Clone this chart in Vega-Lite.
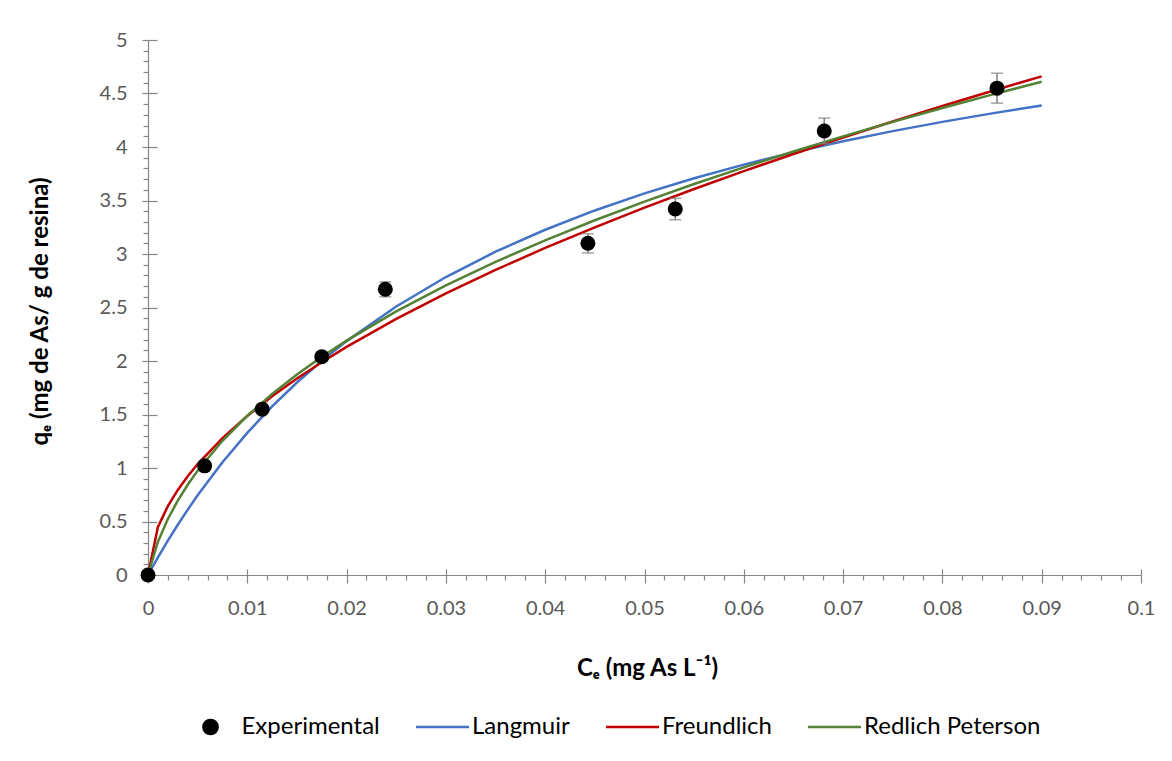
{
  "$schema": "https://vega.github.io/schema/vega-lite/v6.json",
  "autosize": "none",
  "width": 993,
  "height": 535,
  "padding": {"left": 148, "top": 40, "right": 31, "bottom": 186},
  "background": "#ffffff",
  "config": {
    "view": {"stroke": null},
    "font": "Lato",
    "axis": {
      "grid": false,
      "domainColor": "#868686",
      "domainWidth": 1.2,
      "tickColor": "#868686",
      "tickWidth": 1.2,
      "labelFont": "Lato",
      "labelFontSize": 20,
      "labelColor": "#595959",
      "labelFlush": false,
      "titleFont": "Lato",
      "titleFontSize": 24,
      "titleFontWeight": "bold",
      "titleColor": "#000000"
    }
  },
  "datasets": {
    "isotherms": [
      {"model": "Langmuir", "C": 0, "q": 0},
      {"model": "Langmuir", "C": 0.001, "q": 0.1649},
      {"model": "Langmuir", "C": 0.002, "q": 0.3211},
      {"model": "Langmuir", "C": 0.003, "q": 0.4695},
      {"model": "Langmuir", "C": 0.004, "q": 0.6105},
      {"model": "Langmuir", "C": 0.005, "q": 0.7446},
      {"model": "Langmuir", "C": 0.0075, "q": 1.0533},
      {"model": "Langmuir", "C": 0.01, "q": 1.3286},
      {"model": "Langmuir", "C": 0.0125, "q": 1.5758},
      {"model": "Langmuir", "C": 0.015, "q": 1.7989},
      {"model": "Langmuir", "C": 0.0175, "q": 2.0014},
      {"model": "Langmuir", "C": 0.02, "q": 2.1858},
      {"model": "Langmuir", "C": 0.025, "q": 2.5096},
      {"model": "Langmuir", "C": 0.03, "q": 2.7847},
      {"model": "Langmuir", "C": 0.035, "q": 3.0212},
      {"model": "Langmuir", "C": 0.04, "q": 3.2267},
      {"model": "Langmuir", "C": 0.045, "q": 3.407},
      {"model": "Langmuir", "C": 0.05, "q": 3.5663},
      {"model": "Langmuir", "C": 0.055, "q": 3.7083},
      {"model": "Langmuir", "C": 0.06, "q": 3.8355},
      {"model": "Langmuir", "C": 0.065, "q": 3.9501},
      {"model": "Langmuir", "C": 0.07, "q": 4.054},
      {"model": "Langmuir", "C": 0.075, "q": 4.1486},
      {"model": "Langmuir", "C": 0.08, "q": 4.235},
      {"model": "Langmuir", "C": 0.085, "q": 4.3143},
      {"model": "Langmuir", "C": 0.09, "q": 4.3873},
      {"model": "Freundlich", "C": 0, "q": 0},
      {"model": "Freundlich", "C": 0.001, "q": 0.4489},
      {"model": "Freundlich", "C": 0.002, "q": 0.6437},
      {"model": "Freundlich", "C": 0.003, "q": 0.795},
      {"model": "Freundlich", "C": 0.004, "q": 0.9231},
      {"model": "Freundlich", "C": 0.005, "q": 1.0367},
      {"model": "Freundlich", "C": 0.0075, "q": 1.28},
      {"model": "Freundlich", "C": 0.01, "q": 1.4866},
      {"model": "Freundlich", "C": 0.0125, "q": 1.6696},
      {"model": "Freundlich", "C": 0.015, "q": 1.8357},
      {"model": "Freundlich", "C": 0.0175, "q": 1.9888},
      {"model": "Freundlich", "C": 0.02, "q": 2.1317},
      {"model": "Freundlich", "C": 0.025, "q": 2.3938},
      {"model": "Freundlich", "C": 0.03, "q": 2.6318},
      {"model": "Freundlich", "C": 0.035, "q": 2.8515},
      {"model": "Freundlich", "C": 0.04, "q": 3.0566},
      {"model": "Freundlich", "C": 0.045, "q": 3.2496},
      {"model": "Freundlich", "C": 0.05, "q": 3.4328},
      {"model": "Freundlich", "C": 0.055, "q": 3.6074},
      {"model": "Freundlich", "C": 0.06, "q": 3.7743},
      {"model": "Freundlich", "C": 0.065, "q": 3.9345},
      {"model": "Freundlich", "C": 0.07, "q": 4.0893},
      {"model": "Freundlich", "C": 0.075, "q": 4.2383},
      {"model": "Freundlich", "C": 0.08, "q": 4.3832},
      {"model": "Freundlich", "C": 0.085, "q": 4.5236},
      {"model": "Freundlich", "C": 0.09, "q": 4.6605},
      {"model": "Redlich Peterson", "C": 0, "q": 0},
      {"model": "Redlich Peterson", "C": 0.001, "q": 0.3108},
      {"model": "Redlich Peterson", "C": 0.002, "q": 0.5232},
      {"model": "Redlich Peterson", "C": 0.003, "q": 0.6955},
      {"model": "Redlich Peterson", "C": 0.004, "q": 0.8437},
      {"model": "Redlich Peterson", "C": 0.005, "q": 0.9752},
      {"model": "Redlich Peterson", "C": 0.0075, "q": 1.2547},
      {"model": "Redlich Peterson", "C": 0.01, "q": 1.4882},
      {"model": "Redlich Peterson", "C": 0.0125, "q": 1.6916},
      {"model": "Redlich Peterson", "C": 0.015, "q": 1.8733},
      {"model": "Redlich Peterson", "C": 0.0175, "q": 2.0384},
      {"model": "Redlich Peterson", "C": 0.02, "q": 2.1902},
      {"model": "Redlich Peterson", "C": 0.025, "q": 2.4636},
      {"model": "Redlich Peterson", "C": 0.03, "q": 2.707},
      {"model": "Redlich Peterson", "C": 0.035, "q": 2.9265},
      {"model": "Redlich Peterson", "C": 0.04, "q": 3.1282},
      {"model": "Redlich Peterson", "C": 0.045, "q": 3.3151},
      {"model": "Redlich Peterson", "C": 0.05, "q": 3.4895},
      {"model": "Redlich Peterson", "C": 0.055, "q": 3.6543},
      {"model": "Redlich Peterson", "C": 0.06, "q": 3.81},
      {"model": "Redlich Peterson", "C": 0.065, "q": 3.9583},
      {"model": "Redlich Peterson", "C": 0.07, "q": 4.0997},
      {"model": "Redlich Peterson", "C": 0.075, "q": 4.2348},
      {"model": "Redlich Peterson", "C": 0.08, "q": 4.3644},
      {"model": "Redlich Peterson", "C": 0.085, "q": 4.4898},
      {"model": "Redlich Peterson", "C": 0.09, "q": 4.6098}
    ],
    "experimental": [
      {"C": 0, "q": 0, "lo": 0, "hi": 0},
      {"C": 0.0057, "q": 1.02, "lo": 0.99, "hi": 1.05},
      {"C": 0.0115, "q": 1.55, "lo": 1.52, "hi": 1.58},
      {"C": 0.0175, "q": 2.04, "lo": 2.0, "hi": 2.08},
      {"C": 0.0239, "q": 2.67, "lo": 2.6, "hi": 2.74},
      {"C": 0.0443, "q": 3.1, "lo": 3.01, "hi": 3.19},
      {"C": 0.0531, "q": 3.42, "lo": 3.32, "hi": 3.52},
      {"C": 0.0681, "q": 4.15, "lo": 4.03, "hi": 4.27},
      {"C": 0.0855, "q": 4.55, "lo": 4.41, "hi": 4.69}
    ]
  },
  "resolve": {"axis": {"x": "independent", "y": "independent"}},
  "layer": [
    {
      "data": {"name": "isotherms"},
      "mark": {"type": "line", "strokeWidth": 2.5, "clip": false},
      "encoding": {
        "x": {
          "field": "C", "type": "quantitative",
          "scale": {"domain": [0, 0.1], "nice": false},
          "axis": {
            "orient": "bottom",
            "values": [0, 0.01, 0.02, 0.03, 0.04, 0.05, 0.06, 0.07, 0.08, 0.09, 0.1],
            "format": ".2~f",
            "tickSize": 8,
            "labelPadding": 15,
            "title": "Cₑ (mg As L⁻¹)",
            "titleX": 499,
            "titleY": 93,
            "titleBaseline": "middle"
          }
        },
        "y": {
          "field": "q", "type": "quantitative",
          "scale": {"domain": [0, 5], "nice": false},
          "axis": {
            "orient": "left",
            "values": [0, 0.5, 1, 1.5, 2, 2.5, 3, 3.5, 4, 4.5, 5],
            "format": ".1~f",
            "tickSize": 6,
            "labelPadding": 15,
            "title": "qₑ  (mg de As/ g de resina)",
            "titleX": -108,
            "titleY": 271,
            "titleAngle": -90,
            "titleBaseline": "middle"
          }
        },
        "color": {
          "field": "model", "type": "nominal",
          "scale": {
            "domain": ["Experimental", "Langmuir", "Freundlich", "Redlich Peterson"],
            "range": ["#000000", "#4472C4", "#C00000", "#548235"]
          },
          "legend": {
            "title": null,
            "orient": "none",
            "legendX": 54,
            "legendY": 675,
            "direction": "horizontal",
            "padding": 0,
            "symbolSize": 2809,
            "symbolStrokeWidth": 2.5,
            "labelFont": "Lato",
            "labelFontSize": 24,
            "labelColor": "#000000",
            "labelOffset": 3,
            "labelLimit": 400,
            "columnPadding": 31,
            "encode": {
              "symbols": {
                "update": {
                  "shape": {"signal": "datum.value === 'Experimental' ? 'circle' : 'stroke'"},
                  "size": {"signal": "datum.value === 'Experimental' ? 280 : 2809"},
                  "x": {"signal": "datum.value === 'Experimental' ? 8.5 : 26.5"},
                  "fill": {"signal": "datum.value === 'Experimental' ? '#000000' : 'transparent'"},
                  "stroke": {"scale": "color", "field": "value"},
                  "strokeWidth": {"signal": "datum.value === 'Experimental' ? 0 : 2.5"},
                  "opacity": {"value": 1}
                }
              },
              "labels": {
                "update": {
                  "x": {"signal": "datum.value === 'Experimental' ? 39.5 : 56"}
                }
              }
            }
          }
        }
      }
    },
    {
      "data": {"name": "experimental"},
      "mark": {"type": "rule", "color": "#7f7f7f", "strokeWidth": 1.5},
      "encoding": {
        "x": {
          "field": "C", "type": "quantitative",
          "axis": {
            "orient": "bottom",
            "values": [0.002, 0.004, 0.006, 0.008, 0.012, 0.014, 0.016, 0.018, 0.022, 0.024, 0.026, 0.028, 0.032, 0.034, 0.036, 0.038, 0.042, 0.044, 0.046, 0.048, 0.052, 0.054, 0.056, 0.058, 0.062, 0.064, 0.066, 0.068, 0.072, 0.074, 0.076, 0.078, 0.082, 0.084, 0.086, 0.088, 0.092, 0.094, 0.096, 0.098],
            "labels": false,
            "domain": false,
            "tickSize": 5,
            "title": null
          }
        },
        "y": {
          "field": "lo", "type": "quantitative",
          "axis": {
            "orient": "left",
            "values": [0.1, 0.2, 0.3, 0.4, 0.6, 0.7, 0.8, 0.9, 1.1, 1.2, 1.3, 1.4, 1.6, 1.7, 1.8, 1.9, 2.1, 2.2, 2.3, 2.4, 2.6, 2.7, 2.8, 2.9, 3.1, 3.2, 3.3, 3.4, 3.6, 3.7, 3.8, 3.9, 4.1, 4.2, 4.3, 4.4, 4.6, 4.7, 4.8, 4.9],
            "labels": false,
            "domain": false,
            "tickSize": 5,
            "title": null
          }
        },
        "y2": {"field": "hi"}
      }
    },
    {
      "data": {"name": "experimental"},
      "mark": {"type": "tick", "orient": "horizontal", "color": "#7f7f7f", "size": 12, "thickness": 1.5},
      "encoding": {
        "x": {
          "field": "C", "type": "quantitative",
          "axis": {
            "orient": "bottom",
            "values": [0, 0.01, 0.02, 0.03, 0.04, 0.05, 0.06, 0.07, 0.08, 0.09, 0.1],
            "labels": false,
            "domain": false,
            "tickSize": -6,
            "title": null
          }
        },
        "y": {
          "field": "lo", "type": "quantitative",
          "axis": {
            "orient": "left",
            "values": [0, 0.5, 1, 1.5, 2, 2.5, 3, 3.5, 4, 4.5, 5],
            "labels": false,
            "domain": false,
            "tickSize": -9,
            "title": null
          }
        }
      }
    },
    {
      "data": {"name": "experimental"},
      "mark": {"type": "tick", "orient": "horizontal", "color": "#7f7f7f", "size": 12, "thickness": 1.5},
      "encoding": {
        "x": {"field": "C", "type": "quantitative", "axis": null},
        "y": {"field": "hi", "type": "quantitative", "axis": null}
      }
    },
    {
      "data": {"name": "experimental"},
      "mark": {"type": "point", "filled": true, "size": 225, "opacity": 1, "clip": false},
      "encoding": {
        "x": {"field": "C", "type": "quantitative", "axis": null},
        "y": {"field": "q", "type": "quantitative", "axis": null},
        "color": {"datum": "Experimental", "type": "nominal"}
      }
    }
  ]
}
